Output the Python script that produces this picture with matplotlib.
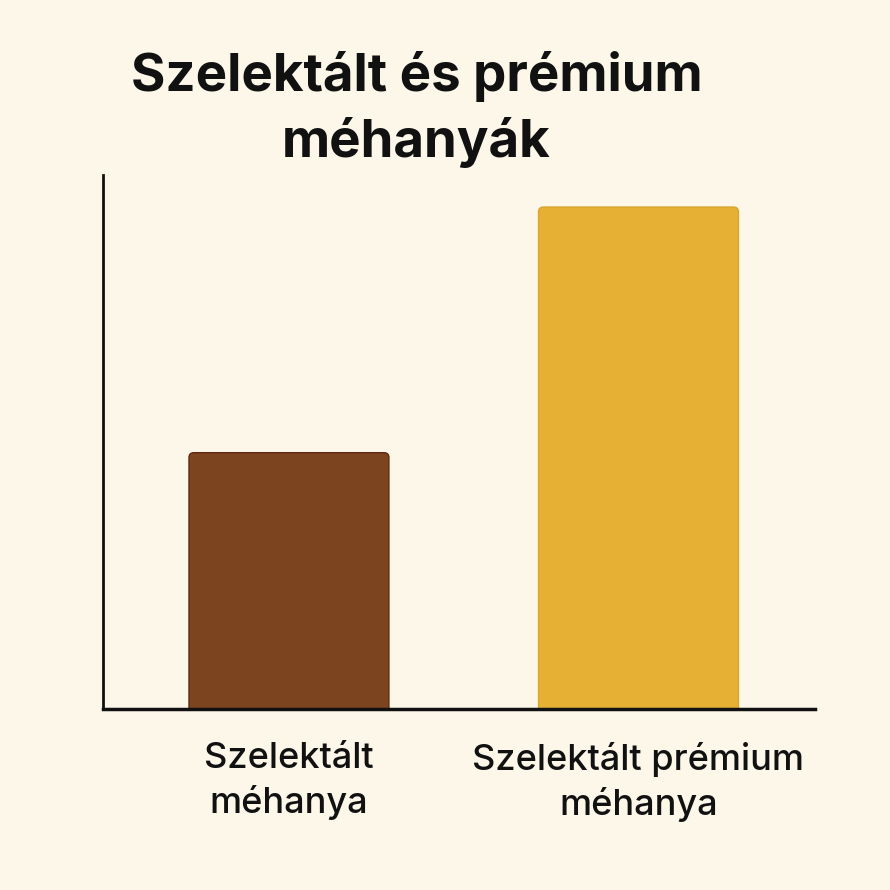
import matplotlib
matplotlib.use("Agg")
import matplotlib.pyplot as plt
from matplotlib.patches import FancyBboxPatch

TITLE = "Szelektált és prémium\nméhanyák"
categories = ["Szelektált\nméhanya", "Szelektált prémium\nméhanya"]
values = [48, 94]
colors = ["#7C4520", "#E6B035"]
edges = ["#5E2A10", "#D9A52C"]

BG = "#FDF7EA"

plt.rcParams['font.family'] = ['Inter', 'DejaVu Sans']

fig = plt.figure(figsize=(8.9, 8.9), dpi=100, facecolor=BG)
ax = fig.add_axes([103 / 890, 1 - 709 / 890, 712 / 890, 534 / 890])
ax.set_facecolor(BG)

x = list(range(len(categories)))
bars = ax.bar(x, values, width=0.572, color=colors)

ax.set_xlim(-0.532, 1.505)
ax.set_ylim(0, 100)

# swap plain bars for rounded ones
# aspect: data units per pixel in y vs x
px_x = 712 / (1.505 + 0.532)
px_y = 534 / 100
for b, fc, ec in zip(bars, colors, edges):
    b.set_visible(False)
    r = 0.014
    p = FancyBboxPatch((b.get_x() + r, b.get_y() - 5), b.get_width() - 2 * r, b.get_height() + 5 - r * px_x / px_y,
                       boxstyle=f"round,pad={r}", mutation_aspect=px_x / px_y,
                       facecolor=fc, edgecolor=ec, linewidth=1.0, clip_on=True)
    ax.add_patch(p)

for s in ["top", "right"]:
    ax.spines[s].set_visible(False)
ax.spines["left"].set_linewidth(2)
ax.spines["bottom"].set_linewidth(2.5)
ax.spines["left"].set_color("#111111")
ax.spines["bottom"].set_color("#111111")
ax.spines["bottom"].set_zorder(5)

ax.set_yticks([])
ax.set_xticks(x)
ax.set_xticklabels(categories, fontsize=26, fontweight="medium", color="#111111",
                   linespacing=1.36)
ax.tick_params(axis="x", length=0, pad=24)

fig.text(0.468, 0.877, TITLE, ha="center", va="center", fontsize=38,
         fontweight="bold", color="#111111", linespacing=1.36)

fig.savefig("out.png", dpi=100, facecolor=BG)
